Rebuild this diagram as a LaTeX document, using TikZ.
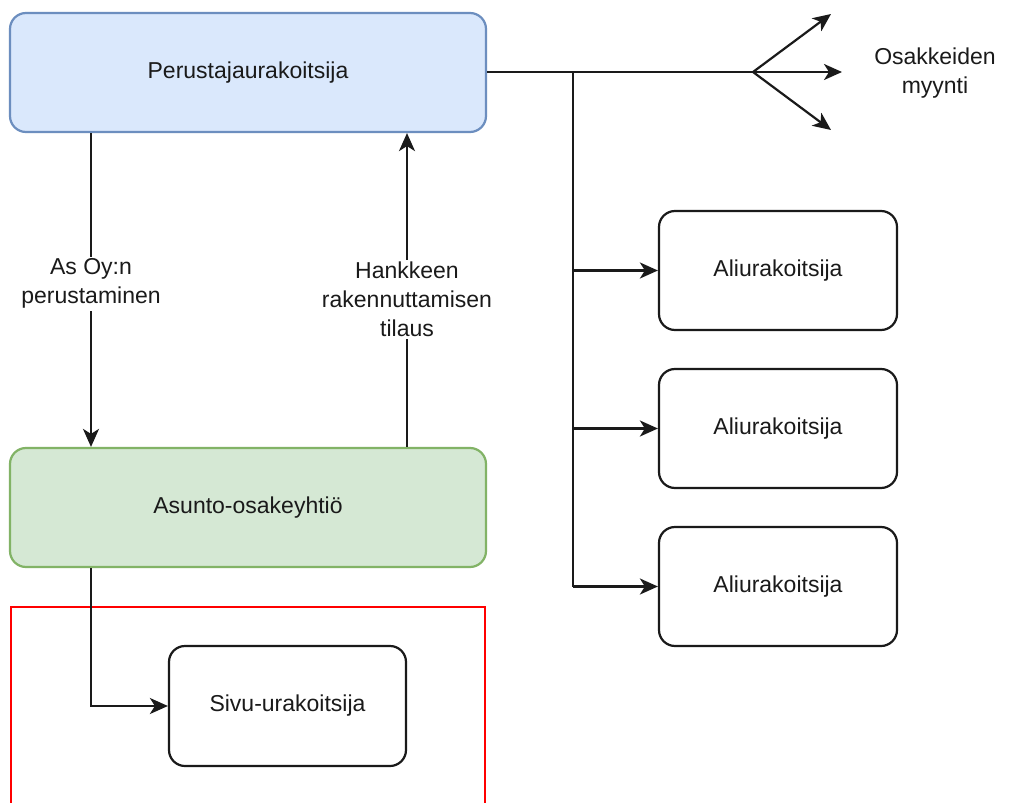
\documentclass[tikz,border=0pt]{standalone}
\usepackage{fontspec}
\setmainfont{Liberation Sans}
\usetikzlibrary{arrows.meta}
\definecolor{blueFill}{HTML}{DAE8FC}
\definecolor{blueLine}{HTML}{6C8EBF}
\definecolor{greenFill}{HTML}{D5E8D4}
\definecolor{greenLine}{HTML}{82B366}
\definecolor{ink}{HTML}{1A1A1A}
\tikzset{
  box/.style={draw=ink, line width=2.2pt, rounded corners=16pt, minimum width=238pt,
    minimum height=119pt, inner sep=0pt, align=center, text=ink},
  wide/.style={box, minimum width=476pt},
  wire/.style={draw=ink, line width=2.2pt},
  arr/.style={wire, -{Stealth[length=18pt,width=16pt,inset=5pt]}},
  lbl/.style={fill=white, align=center, text=ink, inner sep=2pt}
}
\begin{document}
\begin{tikzpicture}[x=1pt,y=-1pt,font=\fontsize{23}{29}\selectfont]
\useasboundingbox (0,0) rectangle (1018,803);
\clip (0,0) rectangle (1018,803);
\fill[white] (0,0) rectangle (1018,803);

% framed area round the side contractor
\draw[red, line width=2pt] (11,607) rectangle (485,830);

% main boxes
\node[wide, fill=blueFill, draw=blueLine] (top) at (248,72.5) {Perustajaurakoitsija};
\node[wide, fill=greenFill, draw=greenLine] (aso) at (248,507.5) {Asunto-osakeyhtiö};
\node[box, fill=white] (al1) at (778,270.5) {Aliurakoitsija};
\node[box, fill=white] (al2) at (778,428.5) {Aliurakoitsija};
\node[box, fill=white] (al3) at (778,586.5) {Aliurakoitsija};
\node[box, fill=white, minimum width=237pt, minimum height=120pt] (sivu) at (287.5,706) {Sivu-urakoitsija};

% helper points
\coordinate (lx) at (91,0);
\coordinate (rx) at (407,0);
\coordinate (fan) at (753,72);
\coordinate (t1) at (831,14);
\coordinate (t2) at (842,72);
\coordinate (t3) at (831,130);
\coordinate (br) at (573,72);
\coordinate (brend) at (573,586.5);
\coordinate (bend) at (91,706);

% share sales fan
\draw[wire] (top.east |- fan) -- (fan);
\draw[arr] (fan) -- (t1);
\draw[arr] (fan) -- (t2);
\draw[arr] (fan) -- (t3);
\node[text=ink, align=center] (myynti) at (935,73) {Osakkeiden\\myynti};

% subcontractor branch
\draw[wire] (br) -- (brend);
\draw[arr] (br |- al1.west) -- (al1.west);
\draw[arr] (br |- al2.west) -- (al2.west);
\draw[arr] (brend) -- (al3.west);

% founding and ordering
\draw[arr] (lx |- top.south) -- (lx |- aso.north)
  node[lbl, pos=0.48] (l1) {As Oy:n\\perustaminen};
\draw[arr] (rx |- aso.north) -- (rx |- top.south)
  node[lbl, pos=0.47] (l2) {Hankkeen\\rakennuttamisen\\tilaus};

% side contractor
\draw[arr] (lx |- aso.south) -- (bend) -- (sivu.west);
\end{tikzpicture}
\end{document}
